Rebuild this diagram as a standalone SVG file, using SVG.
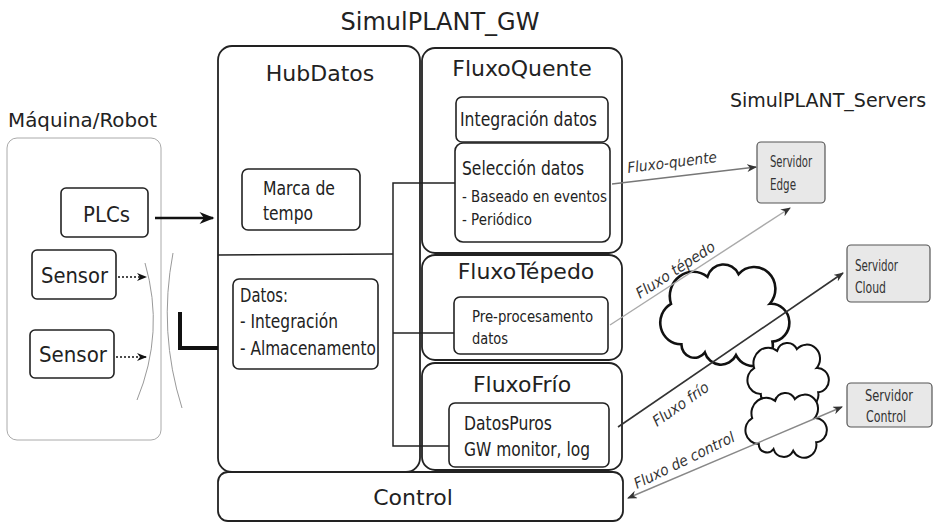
<svg xmlns="http://www.w3.org/2000/svg" width="935" height="525" viewBox="0 0 935 525">
  <defs>
    <marker id="head" viewBox="0 0 10 8" refX="9" refY="4" markerWidth="10" markerHeight="8" markerUnits="userSpaceOnUse" orient="auto-start-reverse">
      <path d="M0,0 L10,4 L0,8 L3,4 z" fill="#333"/>
    </marker>
    <marker id="headBig" viewBox="0 0 10 8" refX="9" refY="4" markerWidth="16" markerHeight="12" markerUnits="userSpaceOnUse" orient="auto">
      <path d="M0,0 L10,4 L0,8 L3,4 z" fill="#111"/>
    </marker>
    <marker id="headSmall" viewBox="0 0 10 8" refX="9" refY="4" markerWidth="11" markerHeight="8" markerUnits="userSpaceOnUse" orient="auto">
      <path d="M0,0 L10,4 L0,8 L3,4 z" fill="#111"/>
    </marker>
    <!-- generic cloud outline in a 100x70 box -->
    <path id="cloud" d="M18,58 A16,16 0 0 1 10,28 A18,18 0 0 1 38,8 A13,13 0 0 1 62,6 A16,16 0 0 1 86,28 A14,14 0 0 1 88,56 A15,15 0 0 1 60,66 A13,13 0 0 1 36,64 A10,10 0 0 1 18,58 Z" fill="#fff" stroke="#111" vector-effect="non-scaling-stroke"/>
  </defs>
  <style>
    text { font-family: "DejaVu Sans", sans-serif; fill: #222; }
    .title { font-size: 24px; }
    .head { font-size: 22px; text-anchor: middle; }
    .lbl { font-size: 19px; }
    .sm { font-size: 16px; }
    .srv { font-size: 16px; fill: #333; }
    .flow { font-size: 15px; font-style: italic; fill: #333; }
    .box { fill: #fff; stroke: #222; stroke-width: 1.6; }
    .frame { fill: #fff; stroke: #222; stroke-width: 1.8; }
    .server { fill: #e8e8e8; stroke: #555; stroke-width: 1.2; }
    .link { fill: none; stroke: #222; stroke-width: 1.5; }
  </style>

  <!-- headings -->
  <text class="title" x="440" y="30" text-anchor="middle">SimulPLANT_GW</text>
  <text class="title" x="828" y="107" text-anchor="middle" style="font-size:19px">SimulPLANT_Servers</text>
  <text class="title" x="8" y="127" style="font-size:20px" textLength="149" lengthAdjust="spacingAndGlyphs">Máquina/Robot</text>

  <!-- machine side -->
  <g id="maquina">
    <rect x="7" y="138" width="154" height="302" rx="10" fill="#fff" stroke="#aaa" stroke-width="1"/>
    <path d="M145,263 Q165,332 137,400" fill="none" stroke="#999" stroke-width="1"/>
    <path d="M173,253 Q158,332 182,408" fill="none" stroke="#999" stroke-width="1"/>
  </g>
  <g id="plcs">
    <rect class="box" x="61" y="188" width="87" height="49" rx="5" stroke-width="2"/>
    <text x="83" y="222" style="font-size:21px" textLength="47" lengthAdjust="spacingAndGlyphs">PLCs</text>
  </g>
  <g id="sensor1">
    <rect class="box" x="32" y="250" width="84" height="49" rx="5" stroke-width="2"/>
    <text x="41" y="283" style="font-size:21px" textLength="67" lengthAdjust="spacingAndGlyphs">Sensor</text>
  </g>
  <g id="sensor2">
    <rect class="box" x="30" y="330" width="84" height="48" rx="5" stroke-width="2"/>
    <text x="39" y="362" style="font-size:21px" textLength="68" lengthAdjust="spacingAndGlyphs">Sensor</text>
  </g>

  <!-- gateway -->
  <g id="hubdatos">
    <rect class="frame" x="218" y="46" width="202" height="426" rx="14"/>
    <text class="head" x="320" y="81">HubDatos</text>
  </g>
  <g id="marca">
    <rect class="box" x="242" y="169" width="118" height="61" rx="6"/>
    <text x="263" y="195" style="font-size:20px" textLength="72" lengthAdjust="spacingAndGlyphs">Marca de</text>
    <text x="263" y="220" style="font-size:20px" textLength="50" lengthAdjust="spacingAndGlyphs">tempo</text>
  </g>
  <g id="datos">
    <rect class="box" x="233" y="279" width="145" height="90" rx="6"/>
    <text class="lbl" x="240" y="302" textLength="48" lengthAdjust="spacingAndGlyphs">Datos:</text>
    <text class="lbl" x="240" y="328" textLength="98" lengthAdjust="spacingAndGlyphs">- Integración</text>
    <text class="lbl" x="240" y="355" textLength="136" lengthAdjust="spacingAndGlyphs">- Almacenamento</text>
  </g>

  <g id="fluxoquente">
    <rect class="frame" x="422" y="48" width="200" height="205" rx="13"/>
    <text class="head" x="522" y="76">FluxoQuente</text>
  </g>
  <g id="integracion">
    <rect class="box" x="456" y="97" width="152" height="45" rx="6"/>
    <text class="lbl" x="460" y="126" textLength="137" lengthAdjust="spacingAndGlyphs">Integración datos</text>
  </g>
  <g id="seleccion">
    <rect class="box" x="455" y="143" width="155" height="99" rx="8"/>
    <text x="462" y="175" style="font-size:20px" textLength="122" lengthAdjust="spacingAndGlyphs">Selección datos</text>
    <text class="sm" x="462" y="202" textLength="145" lengthAdjust="spacingAndGlyphs">- Baseado en eventos</text>
    <text class="sm" x="462" y="225" textLength="70" lengthAdjust="spacingAndGlyphs">- Periódico</text>
  </g>

  <g id="fluxotepedo">
    <rect class="frame" x="422" y="255" width="200" height="105" rx="13"/>
    <text class="head" x="526" y="279">FluxoTépedo</text>
  </g>
  <g id="preproc">
    <rect class="box" x="454" y="297" width="154" height="57" rx="6"/>
    <text class="sm" x="472" y="322" textLength="121" lengthAdjust="spacingAndGlyphs">Pre-procesamento</text>
    <text class="sm" x="472" y="344" textLength="36" lengthAdjust="spacingAndGlyphs">datos</text>
  </g>

  <g id="fluxofrio">
    <rect class="frame" x="422" y="363" width="200" height="107" rx="13"/>
    <text class="head" x="522" y="392">FluxoFrío</text>
  </g>
  <g id="datospuros">
    <rect class="box" x="449" y="403" width="160" height="64" rx="6"/>
    <text class="lbl" x="464" y="430" textLength="88" lengthAdjust="spacingAndGlyphs">DatosPuros</text>
    <text class="lbl" x="464" y="456" textLength="126" lengthAdjust="spacingAndGlyphs">GW monitor, log</text>
  </g>

  <g id="control">
    <rect class="frame" x="218" y="472" width="405" height="49" rx="10"/>
    <text class="head" x="413" y="505">Control</text>
  </g>

  <!-- servers -->
  <g id="edge">
    <rect class="server" x="757" y="142" width="68" height="61" rx="4"/>
    <text class="srv" x="770" y="167" textLength="42" lengthAdjust="spacingAndGlyphs">Servidor</text>
    <text class="srv" x="770" y="190" textLength="26" lengthAdjust="spacingAndGlyphs">Edge</text>
  </g>
  <g id="cloud">
    <rect class="server" x="847" y="245" width="83" height="57" rx="4"/>
    <text class="srv" x="855" y="271" textLength="43" lengthAdjust="spacingAndGlyphs">Servidor</text>
    <text class="srv" x="855" y="293" textLength="31" lengthAdjust="spacingAndGlyphs">Cloud</text>
  </g>
  <g id="servcontrol">
    <rect class="server" x="847" y="383" width="85" height="44" rx="4"/>
    <text class="srv" x="865" y="401" textLength="48" lengthAdjust="spacingAndGlyphs">Servidor</text>
    <text class="srv" x="866" y="422" textLength="40" lengthAdjust="spacingAndGlyphs">Control</text>
  </g>

  <!-- network clouds -->
  <g id="nube">
    <use href="#cloud" transform="translate(658,266) scale(1.3,1.35)" stroke-width="2.6"/>
    <use href="#cloud" transform="translate(746,344) scale(0.82,0.86)" stroke-width="2"/>
    <use href="#cloud" transform="translate(744,394) scale(0.82,0.86)" stroke-width="2"/>
  </g>

  <!-- connectors -->
  <g id="connectors">
    <line x1="155" y1="218" x2="213" y2="218" stroke="#111" stroke-width="2.5" marker-end="url(#headBig)"/>
    <line x1="118" y1="277" x2="146" y2="277" stroke="#111" stroke-width="1.6" stroke-dasharray="2,2" marker-end="url(#headSmall)"/>
    <line x1="116" y1="357" x2="146" y2="357" stroke="#111" stroke-width="1.6" stroke-dasharray="2,2" marker-end="url(#headSmall)"/>
    <path d="M180,312 V348 H218" fill="none" stroke="#111" stroke-width="4"/>

    <path class="link" d="M218,255 L393,254"/>
    <path class="link" d="M455,183 H393 V446 H449"/>
    <path class="link" d="M393,333 H454"/>

    <line x1="612" y1="184" x2="756" y2="167" stroke="#777" stroke-width="1.4" marker-end="url(#head)"/>
    <text class="flow" transform="translate(628,173) rotate(-7)" textLength="90" lengthAdjust="spacingAndGlyphs">Fluxo-quente</text>

    <line x1="610" y1="325" x2="790" y2="208" stroke="#aaa" stroke-width="1.4" marker-end="url(#head)"/>
    <text class="flow" transform="translate(640,299) rotate(-33)" textLength="91" lengthAdjust="spacingAndGlyphs">Fluxo tépedo</text>

    <line x1="618" y1="427" x2="843" y2="273" stroke="#333" stroke-width="1.6" marker-end="url(#head)"/>
    <text class="flow" transform="translate(657,427) rotate(-35)" textLength="65" lengthAdjust="spacingAndGlyphs">Fluxo frío</text>

    <line x1="628" y1="498" x2="842" y2="407" stroke="#888" stroke-width="1.4" marker-start="url(#head)" marker-end="url(#head)"/>
    <text class="flow" transform="translate(637,489) rotate(-26)" textLength="110" lengthAdjust="spacingAndGlyphs">Fluxo de control</text>
  </g>
</svg>
